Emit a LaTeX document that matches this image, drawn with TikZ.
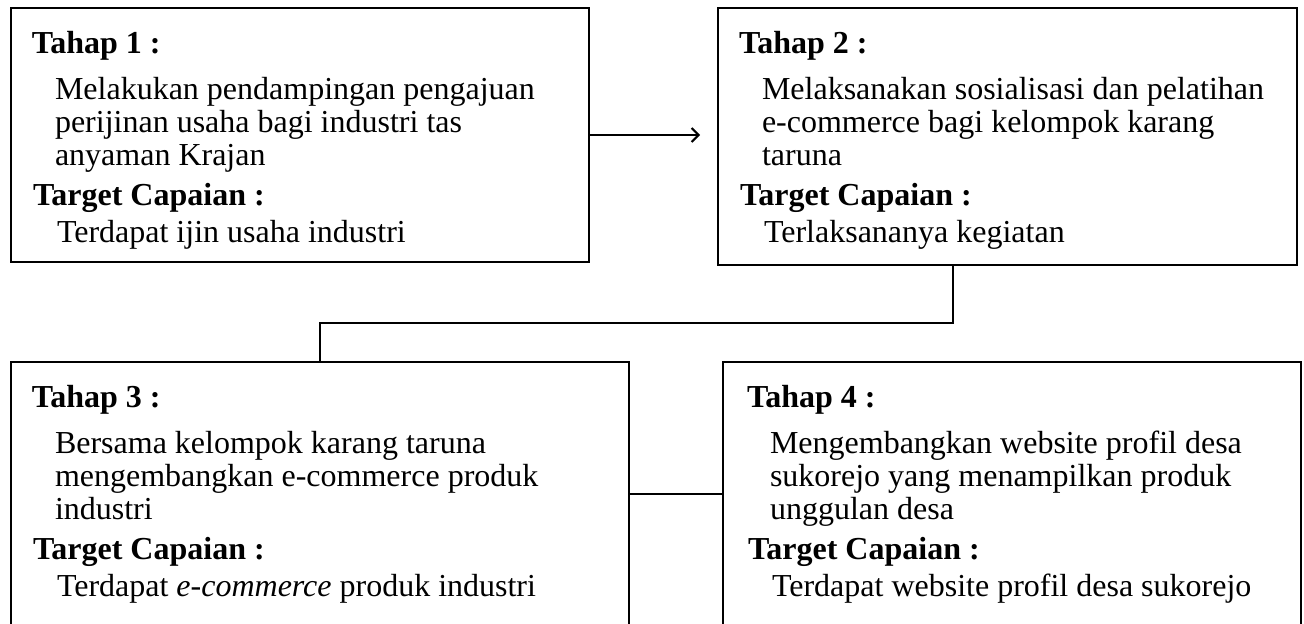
\documentclass[tikz,border=0pt]{standalone}
\usepackage{fontspec}
\setmainfont{Liberation Serif}
\usetikzlibrary{arrows.meta,positioning,calc}

\begin{document}
\begin{tikzpicture}[x=0.5pt,y=-0.5pt,line width=1pt,
    font=\fontsize{16}{18}\selectfont,
    kotak/.style={draw,anchor=north west,inner sep=0pt,outer sep=0pt},
    judul/.style={anchor=base west,inner sep=0pt,font=\fontsize{16}{18}\selectfont\bfseries},
    isi/.style={anchor=base west,inner sep=0pt},
    panah/.style={-{Straight Barb[length=3.5pt,width=7pt]}}]
  \useasboundingbox (0,0) rectangle (1304,623);
  % kotak tahap
  \node[kotak,minimum width=289pt,minimum height=127pt] (b1) at (11,8) {};
  \node[kotak,minimum width=289.5pt,minimum height=128.5pt] (b2) at (718,8) {};
  \node[kotak,minimum width=309pt,minimum height=132pt] (b3) at (11,362) {};
  \node[kotak,minimum width=289pt,minimum height=132pt] (b4) at (723,362) {};
  % penghubung
  \coordinate (ujung) at ([xshift=-9pt]b2.west |- b1.east);
  \draw[panah] (b1.east) -- (ujung);
  \coordinate (belok) at (0,323);
  \draw ([xshift=-27.25pt]b2.south) |- (belok -| b3.north) -- (b3.north);
  \draw (b3.east) -- (b4.west);
  % isi kotak
  \foreach \kotak/\nomor/\dx/\satu/\dua/\tiga/\hasil in {
      b1/1/0/{Melakukan pendampingan pengajuan}/{perijinan usaha bagi industri tas}/{anyaman Krajan}/{Terdapat ijin usaha industri},
      b2/2/0/{Melaksanakan sosialisasi dan pelatihan}/{e-commerce bagi kelompok karang}/{taruna}/{Terlaksananya kegiatan},
      b3/3/0/{Bersama kelompok karang taruna}/{mengembangkan e-commerce produk}/{industri}/{Terdapat \textit{e-commerce} produk industri},
      b4/4/3/{Mengembangkan website profil desa}/{sukorejo yang menampilkan produk}/{unggulan desa}/{Terdapat website profil desa sukorejo}} {
    \node[judul] (judul\nomor) at ($(\kotak.north west)+(20+\dx,45)$) {Tahap \nomor\ :};
    \foreach \baris [count=\i from 0] in {\satu,\dua,\tiga}
      \node[isi] (isi\nomor-\i) at ($(\kotak.north west)+(43+\dx,91+33*\i)$) {\baris};
    \node[judul] (target\nomor) at ($(\kotak.north west)+(21+\dx,197)$) {Target Capaian :};
    \node[isi] (hasil\nomor) at ($(\kotak.north west)+(45+\dx,234)$) {\hasil};
  }
\end{tikzpicture}
\end{document}
